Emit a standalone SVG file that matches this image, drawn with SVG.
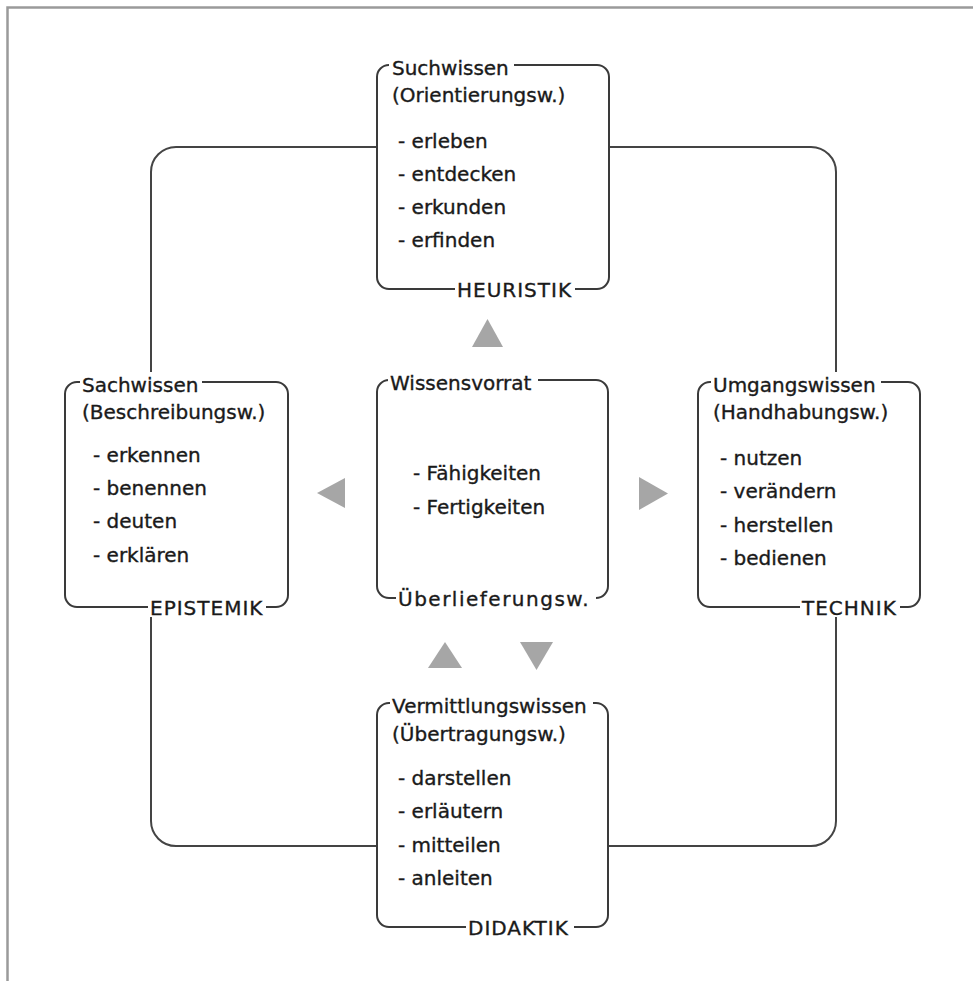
<svg xmlns="http://www.w3.org/2000/svg" width="973" height="981" viewBox="0 0 973 981">
<style>
.frame{fill:none;stroke:#9a9a9a;stroke-width:2.5}
.conn{fill:none;stroke:#444;stroke-width:2}
.box{fill:#fff;stroke:#3a3a3a;stroke-width:2}
.bg{fill:#fff}
text{font-family:"DejaVu Sans","Verdana",sans-serif;font-size:20px;fill:#1a1a1a;stroke:#1a1a1a;stroke-width:0.35}
.cap{letter-spacing:1px}
.tri{fill:#a6a6a6}
</style>
<rect x="0" y="0" width="973" height="981" fill="#fff"/>
<g id="frame">
<path class="frame" d="M7.5,981 V7.5 H973"/>
</g>
<g id="connectors">
<path class="conn" d="M377,147 H176 A25,25 0 0 0 151,172 V382"/>
<path class="conn" d="M609,147 H811 A25,25 0 0 1 836,172 V382"/>
<path class="conn" d="M836,607 V821 A25,25 0 0 1 811,846 H608"/>
<path class="conn" d="M151,607 V821 A25,25 0 0 0 176,846 H377"/>
<polygon class="tri" points="472,347 503,347 487.5,319"/>
<polygon class="tri" points="317,493 345,478 345,508"/>
<polygon class="tri" points="639,477 639,510 668,493.5"/>
<polygon class="tri" points="428,668 462,668 445,642"/>
<polygon class="tri" points="520,642 553,642 536.5,670"/>
</g>
<g id="suchwissen">
<rect class="box" x="377" y="65" width="232" height="224" rx="12"/>
<rect class="bg" x="389" y="55" width="125" height="20"/>
<rect class="bg" x="455" y="279" width="120" height="20"/>
<text x="392" y="75">Suchwissen</text>
<text x="392" y="102">(Orientierungsw.)</text>
<text x="398" y="148">- erleben</text>
<text x="398" y="181">- entdecken</text>
<text x="398" y="214">- erkunden</text>
<text x="398" y="247">- erfinden</text>
<text class="cap" x="457" y="297">HEURISTIK</text>
</g>
<g id="wissensvorrat">
<rect class="box" x="377" y="380" width="231" height="218" rx="12"/>
<rect class="bg" x="388" y="370" width="150" height="20"/>
<rect class="bg" x="396" y="588" width="200" height="20"/>
<text x="390" y="390">Wissensvorrat</text>
<text x="413" y="480">- Fähigkeiten</text>
<text x="413" y="514">- Fertigkeiten</text>
<text x="398" y="606" style="letter-spacing:1.5px">Überlieferungsw.</text>
</g>
<g id="sachwissen">
<rect class="box" x="65" y="382" width="223" height="225" rx="12"/>
<rect class="bg" x="80" y="372" width="122" height="20"/>
<rect class="bg" x="148" y="597" width="118" height="20"/>
<text x="82" y="392">Sachwissen</text>
<text x="82" y="419">(Beschreibungsw.)</text>
<text x="93" y="462">- erkennen</text>
<text x="93" y="495">- benennen</text>
<text x="93" y="528">- deuten</text>
<text x="93" y="562">- erklären</text>
<text class="cap" x="150" y="615">EPISTEMIK</text>
</g>
<g id="umgangswissen">
<rect class="box" x="698" y="382" width="222" height="225" rx="12"/>
<rect class="bg" x="711" y="372" width="170" height="20"/>
<rect class="bg" x="800" y="597" width="100" height="20"/>
<text x="713" y="392">Umgangswissen</text>
<text x="713" y="419">(Handhabungsw.)</text>
<text x="720" y="465">- nutzen</text>
<text x="720" y="498">- verändern</text>
<text x="720" y="532">- herstellen</text>
<text x="720" y="565">- bedienen</text>
<text class="cap" x="802" y="615">TECHNIK</text>
</g>
<g id="vermittlungswissen">
<rect class="box" x="377" y="703" width="231" height="224" rx="12"/>
<rect class="bg" x="390" y="693" width="203" height="20"/>
<rect class="bg" x="466" y="917" width="108" height="20"/>
<text x="392" y="713">Vermittlungswissen</text>
<text x="392" y="741">(Übertragungsw.)</text>
<text x="398" y="785">- darstellen</text>
<text x="398" y="818">- erläutern</text>
<text x="398" y="852">- mitteilen</text>
<text x="398" y="885">- anleiten</text>
<text class="cap" x="468" y="935">DIDAKTIK</text>
</g>
</svg>
